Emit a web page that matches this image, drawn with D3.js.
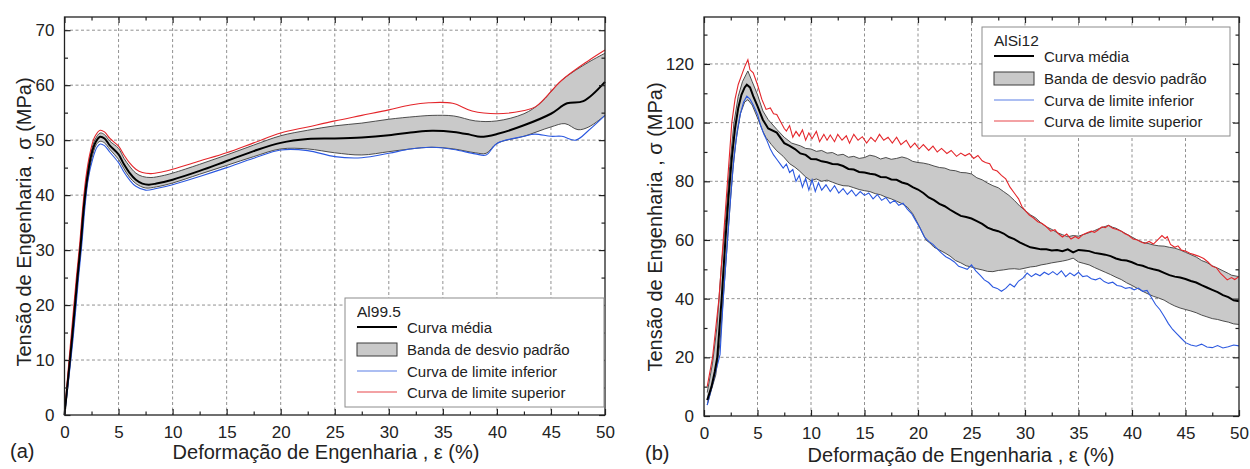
<!DOCTYPE html>
<html>
<head>
<meta charset="utf-8">
<script src="https://d3js.org/d3.v7.min.js"></script>
<style>
body { margin: 0; background: #fff; }
text { font-family: "Liberation Sans", Arial, sans-serif; fill: #222; }
</style>
</head>
<body>
<svg width="1250" height="469"></svg>
<script>
// ---- ticks ----
var xMajor = [0, 5, 10, 15, 20, 25, 30, 35, 40, 45, 50];
var xMinor = [2.5, 7.5, 12.5, 17.5, 22.5, 27.5, 32.5, 37.5, 42.5, 47.5];
var yMajorA = [0, 10, 20, 30, 40, 50, 60, 70];
var yMinorA = [5, 15, 25, 35, 45, 55, 65];
var yMajorB = [0, 20, 40, 60, 80, 100, 120];
var yMinorB = [10, 30, 50, 70, 90, 110, 130];

// ---- (a) Al99.5, [strain %, stress MPa] ----
var alMean = [[0,0],[0.2,4],[0.7,14],[1.2,25],[1.5,31],[1.8,38],[2.1,43],[2.5,47.5],[2.9,49.7],[3.3,50.6],[3.7,50.3],[4.2,49],[5,47.4],[5.5,45.6],[6,44.1],[6.6,42.8],[7.2,42.1],[7.8,41.9],[8.5,42.1],[10,42.8],[12.5,44.4],[15,46.2],[17.5,48],[20,49.5],[22.5,50.2],[25,50.3],[27.5,50.5],[30,50.9],[32.5,51.5],[34,51.7],[36,51.5],[37.5,51],[38.5,50.6],[40,51.1],[42.5,52.7],[45,54.8],[46.5,56.7],[48,57.1],[50,60.6]];
var alRed = [[0,0],[0.2,5],[0.6,14],[1.1,25],[1.4,31],[1.7,38],[2,43.5],[2.4,48],[2.8,50.6],[3.3,51.8],[3.7,51.5],[4.2,50.3],[5,48.9],[5.5,47.3],[6,45.9],[6.6,44.7],[7.2,44.1],[8,43.9],[9,44.2],[10,44.7],[12.5,46.2],[15,47.7],[17.5,49.5],[20,51.3],[22.5,52.4],[25,53.5],[27.5,54.5],[30,55.5],[32,56.4],[33.7,56.8],[35.9,56.7],[37.7,55.3],[40,54.8],[42.3,55.3],[43.6,56.1],[46,60.9],[48.5,64.5],[50,66.4]];
var alBlue = [[0,0],[0.3,5],[0.8,14],[1.3,25],[1.6,31],[1.9,38],[2.2,43],[2.6,46.5],[3,48.7],[3.3,49.3],[3.7,49],[4.2,47.8],[5,45.9],[5.5,44.2],[6,42.8],[6.6,41.6],[7.5,40.9],[8.5,41.2],[10,41.9],[12.5,43.4],[15,45],[17.5,46.7],[20,48.2],[22.5,48.1],[25,47],[27.5,46.8],[30,47.6],[32,48.4],[34,48.7],[36,48.3],[38,47.5],[39,47.3],[40,49.4],[42.5,50.7],[43.5,51.1],[45,50.7],[46,50.7],[47.3,50],[48.5,51.8],[50,54.5]];
var alUpper = [[0,0],[0.2,4.5],[0.65,14],[1.15,25],[1.45,31],[1.75,38],[2.05,43.3],[2.45,47.8],[2.85,50.2],[3.3,51.3],[3.7,51],[4.2,49.8],[5,48.5],[5.5,46.7],[6,45.3],[6.6,44],[7.2,43.4],[8,43.2],[9,43.5],[10,44],[12.5,45.6],[15,47.3],[17.5,49.1],[20,50.8],[22.5,51.8],[25,52.6],[27.5,53.1],[30,53.8],[32.5,54.3],[34,54.5],[36,54.4],[38,53.5],[40,53.5],[42.5,54.8],[44,56.7],[46,60.9],[48.5,64.2],[50,65.8]];
var alLower = [[0,0],[0.25,4],[0.75,14],[1.25,25],[1.55,31],[1.85,38],[2.15,42.7],[2.55,46.8],[2.95,49.2],[3.3,49.8],[3.7,49.5],[4.2,48.3],[5,46.5],[5.5,44.8],[6,43.3],[6.6,42.1],[7.5,41.3],[8.5,41.5],[10,42.2],[12.5,43.8],[15,45.4],[17.5,47],[20,48.4],[22.5,48.4],[25,47.7],[27.5,47.3],[30,47.9],[32,48.4],[34,48.7],[36,48.4],[38,47.7],[39,47.6],[40,49.4],[42.5,50.7],[45,52.4],[46.3,53],[47.5,51.9],[48.5,52.4],[50,54.5]];

// ---- (b) AlSi12 ----
var siMean = [[0.3,5.4],[0.7,10],[1,15],[1.24,20],[1.65,40],[2,60],[2.3,75],[2.6,88],[2.9,98],[3.2,105],[3.5,109.5],[3.8,112],[4,112.9],[4.3,112],[4.6,109],[5,105.6],[5.5,101],[6,98],[6.8,96.6],[7.5,93],[8,92.1],[8.5,91],[9,89.5],[9.5,89],[10,87.6],[10.5,87.5],[11,86.8],[11.5,86.5],[12,85.9],[12.5,85.8],[13,85.2],[13.5,84.2],[14,84],[14.5,83.2],[15,83],[15.5,82.6],[16,82.3],[16.5,81.5],[17,81.4],[17.5,80.6],[18,80.5],[18.5,79.6],[19,79.1],[19.5,78],[20,77.2],[20.5,76],[21,74.5],[21.5,73.6],[22,72.3],[22.5,71.5],[23,70.3],[23.5,69.2],[24,68.2],[24.5,67.8],[25,67.3],[25.5,66.4],[26,65.5],[26.5,64.2],[27,63.5],[27.5,63],[28,62.2],[28.5,61],[29,60.3],[29.5,59.2],[30,58.3],[30.5,57.5],[31,57.2],[31.5,56.8],[32,56.8],[32.5,56.4],[33,56.6],[33.5,56.2],[34,56.8],[34.5,55.8],[35,56.6],[35.5,56.4],[36,56.2],[36.5,55.6],[37,55.3],[37.5,55],[38,54.5],[38.5,53.7],[39,53.2],[39.5,53],[40,52.4],[40.5,51.6],[41,51.2],[41.5,50.5],[42,50],[42.5,49.6],[43,48.8],[43.5,48],[44,47.5],[44.5,47.2],[45,46.7],[45.5,46],[46,45.5],[46.5,44.6],[47,43.8],[47.5,43],[48,42.2],[48.5,41.2],[49,40.5],[49.5,39.4],[50,39.1]];
var siRed = [[0.3,10],[0.5,14],[0.8,20],[1.1,30],[1.4,40],[1.6,50],[1.8,60],[2,70],[2.2,80],[2.6,100],[2.9,108],[3.2,113],[3.5,116],[3.8,119],[4.1,121.4],[4.3,118],[4.6,117],[5,112.9],[5.4,108],[5.8,104.5],[6.2,105],[6.5,103],[6.8,102.8],[7.2,100],[7.5,98],[7.7,97.1],[8,99],[8.3,95],[8.6,97],[8.9,95.4],[9.2,97.5],[9.5,94],[9.8,96.5],[10.1,94.5],[10.5,97],[10.8,93.5],[11.2,96],[11.5,94],[11.8,95.8],[12.2,93.5],[12.5,96],[12.9,94],[13.3,95.5],[13.6,93],[14,96],[14.4,94],[14.8,95.2],[15.2,93],[15.6,95],[16,93.5],[16.4,96],[16.8,94],[17.2,95],[17.6,93],[18,95],[18.4,92.5],[18.9,94],[19.3,91.5],[19.7,93],[20.1,91],[20.5,92.5],[21,90.5],[21.4,92],[21.8,90],[22.2,91.2],[22.7,89.5],[23.1,90.5],[23.6,88.5],[24,89.6],[24.4,88.7],[24.8,89.5],[25.2,87.8],[25.6,88.8],[26,87],[26.3,86.4],[26.7,86],[27,84],[27.4,83.5],[27.8,82],[28.2,80.8],[28.6,78],[29,76],[29.4,74],[29.7,71.5],[30,70.1],[30.4,68.5],[30.8,67.5],[31.2,66.2],[31.6,65.6],[32,64.5],[32.4,63],[32.8,63.5],[33.1,62.2],[33.5,61],[33.9,62],[34.3,60.3],[34.7,61.2],[35,60.5],[35.4,61.8],[35.8,62.5],[36.2,63],[36.5,62.6],[36.8,63.3],[37.2,64.5],[37.5,64.2],[37.8,65],[38.2,64],[38.6,63.6],[39,63],[39.3,62.2],[39.7,61.5],[40.1,60.3],[40.5,60],[40.9,59.2],[41.2,58.8],[41.6,59.5],[42,58.6],[42.4,60],[42.8,61.5],[43.1,60.5],[43.3,61.1],[43.6,58.5],[44,57.5],[44.3,58],[44.6,56.6],[45,56.2],[45.4,55.5],[45.8,55],[46.2,54.5],[46.7,53.7],[47.1,52.5],[47.5,51],[47.9,50.5],[48.3,48.5],[48.6,47.5],[48.9,46.4],[49.3,47.2],[49.6,46.5],[50,47.5]];
var siBlue = [[0.3,3.7],[0.6,8],[1,14],[1.3,18],[1.5,21],[1.8,40],[2,50],[2.2,60],[2.5,75],[2.8,88],[3.1,97],[3.4,103],[3.7,107],[4,109],[4.3,108],[4.6,106],[5,102.8],[5.3,99],[5.6,96],[5.9,93.7],[6.2,91],[6.5,89],[6.8,87.5],[7.1,86],[7.4,84.5],[7.7,85.9],[8,83],[8.3,84],[8.6,80],[8.9,82],[9.2,78],[9.5,81],[9.8,77],[10.1,80.5],[10.4,76.5],[10.7,79.5],[11,77],[11.4,78.8],[11.8,76.5],[12.2,78.5],[12.6,76],[13,77.5],[13.4,75.5],[13.8,77],[14.2,75],[14.6,76.5],[15,75.2],[15.4,76],[15.8,74],[16.2,75.5],[16.6,73.5],[17,74.5],[17.4,72.5],[17.8,73.5],[18.2,71.8],[18.6,72.5],[19,70.5],[19.4,69],[19.8,66.5],[20.2,64],[20.6,61],[21,59.5],[21.4,58.5],[21.8,57],[22.2,55.5],[22.6,54.3],[23,53.5],[23.4,52.5],[23.8,51],[24.2,50.5],[24.6,50],[25,51.5],[25.4,49.5],[25.8,48],[26.2,46.4],[26.6,45.5],[27,44],[27.4,43.5],[27.8,42.5],[28.2,43.5],[28.6,45],[29,44],[29.4,46],[29.8,47],[30.2,48.7],[30.6,47.5],[31,48.5],[31.4,47.8],[31.8,49],[32.2,48.2],[32.6,49.2],[33,48.1],[33.4,49.5],[33.8,47.5],[34.2,48.8],[34.6,47.8],[35,49],[35.4,47.5],[35.8,47.8],[36.2,46.8],[36.6,46.4],[37,47],[37.4,45.8],[37.8,45.2],[38.2,45.6],[38.6,44.5],[39,44.2],[39.4,43.5],[39.8,43.8],[40.2,43],[40.6,43.6],[41,42.5],[41.4,42.8],[41.8,40.5],[42.2,38],[42.6,36.3],[43,34],[43.4,31.5],[43.8,29.5],[44.2,28],[44.6,26.5],[45,25],[45.5,24.2],[46,23.8],[46.5,24.5],[47,23.5],[47.5,23.3],[48,24],[48.5,23.2],[49,23.6],[49.5,24.2],[50,23.9]];
var siUpper = [[0.3,8],[0.8,18],[1.2,30],[1.6,50],[2,66],[2.4,85],[2.8,100],[3.2,109],[3.6,114],[4.1,117.6],[4.5,114],[5,109.5],[5.5,104],[6,101],[6.8,97.7],[7.5,95],[8.2,93],[9,92.1],[9.5,91.2],[10,91],[10.5,90.2],[11,90.5],[11.5,89.6],[12,89.8],[12.5,88.9],[13,89.2],[13.5,88.2],[14,88.5],[14.5,87.8],[15,88.1],[15.5,88.9],[16,88.5],[16.5,87.6],[17,88.1],[17.5,87.5],[18,87.8],[18.5,88.3],[19,87.8],[19.5,86.8],[20,86.4],[20.5,86.2],[21,85.8],[21.5,85.2],[22,84.7],[22.5,84.5],[23,83.8],[23.5,83.6],[24,83],[24.5,82.9],[25,82.5],[25.5,81.2],[26,80.5],[26.5,79.4],[27,78.5],[27.5,77.8],[28,76.5],[28.5,75.2],[29,73.5],[29.5,71.6],[30,70.1],[30.5,68.6],[31,67.5],[31.5,65.8],[32,64.5],[32.5,63.6],[33,62.5],[33.5,61.8],[34,61.1],[34.5,61.5],[35,61.3],[35.5,61.9],[36,62.5],[36.5,63.2],[37,64],[37.5,64.6],[37.8,65],[38.2,64.3],[38.5,64],[39,63],[39.5,62],[40,61],[40.5,60],[41,59.2],[41.5,58.8],[42,58.3],[42.5,58],[43,57.9],[43.5,57.5],[44,57.2],[44.5,56.6],[45,55.8],[45.5,55],[46,54.2],[46.5,53],[47,52.3],[47.5,51.2],[48,50.4],[48.5,49.5],[49,48.6],[49.3,48],[50,47.5]];
var siLower = [[0.3,3.8],[0.7,9],[1.1,14],[1.5,25],[1.8,40],[2.1,55],[2.4,70],[2.7,84],[3,94],[3.4,103],[3.8,107],[4.1,107.8],[4.5,106],[5,101.6],[5.5,97],[5.8,94.9],[6.3,92.5],[6.8,90.4],[7.4,88.5],[8,86],[8.5,84.8],[8.9,83.6],[9.5,81.5],[10,80.2],[10.5,80.8],[11,80],[11.5,80.4],[12,79.7],[12.5,79],[13,78.5],[13.5,78.4],[14,77.8],[14.5,77.2],[15,76.8],[15.5,76.5],[16,75.8],[16.5,75.4],[17,74.6],[17.5,74],[18,73.2],[18.5,72.4],[19,71.2],[19.5,69],[20,65.5],[20.4,62.5],[20.75,60],[21.1,59],[21.5,57.5],[22,56.6],[22.6,55.4],[23,54.5],[23.5,53],[24,52.2],[24.5,51.2],[25,50.8],[25.5,50.2],[26,49.8],[26.5,49.3],[27,49.2],[27.5,49.6],[28,49.8],[28.5,50.1],[29,50.2],[29.5,50],[30,50.4],[30.5,50.8],[31,51],[31.5,51.5],[32,51.8],[32.5,52.2],[33,52.5],[33.5,52.8],[34,53.2],[34.5,53.8],[35,52.5],[35.5,52],[36,51.5],[36.5,50.6],[37,49.8],[37.5,49],[38,48.2],[38.5,47.3],[39,46.5],[39.5,45.4],[40,44.5],[40.5,43.5],[41,42.5],[41.5,41.6],[42,40.8],[42.5,40.2],[43,39.5],[43.5,38.4],[44,37.5],[44.5,36.8],[45,36.3],[45.5,35.8],[46,35.2],[46.5,34.4],[47,33.8],[47.5,33.2],[48,32.9],[48.5,32.4],[49,32],[49.5,31.4],[50,31.2]];

var legendItems = ["Curva média", "Banda de desvio padrão", "Curva de limite inferior", "Curva de limite superior"];

var svg = d3.select("svg");

function panel(p) {
    var x = d3.scaleLinear().domain([0, 50]).range([p.left, p.right]);
    var y = d3.scaleLinear().domain([0, p.ymax]).range([p.bottom, p.top]);
    var g = svg.append("g");

    // grid
    g.selectAll(".gx").data(xMajor.slice(1, -1)).enter().append("line")
        .attr("x1", d => x(d)).attr("x2", d => x(d))
        .attr("y1", p.top).attr("y2", p.bottom)
        .attr("stroke", "#858585").attr("stroke-width", 0.9).attr("stroke-dasharray", "3,2.5");
    g.selectAll(".gy").data(p.yMajor.slice(1)).enter().append("line")
        .attr("y1", d => y(d)).attr("y2", d => y(d))
        .attr("x1", p.left).attr("x2", p.right)
        .attr("stroke", "#858585").attr("stroke-width", 0.9).attr("stroke-dasharray", "3,2.5");

    var line = d3.line().x(d => x(d[0])).y(d => y(d[1])).curve(p.curve);

    // std band: upper forwards, lower backwards
    var bandPath = line(p.upper) + "L" + line(p.lower.slice().reverse()).slice(1) + "Z";
    g.append("path").attr("d", bandPath).attr("fill", "#c9c9c9");
    g.append("path").attr("d", line(p.upper)).attr("fill", "none").attr("stroke", "#3c3c3c").attr("stroke-width", 0.9);
    g.append("path").attr("d", line(p.lower)).attr("fill", "none").attr("stroke", "#3c3c3c").attr("stroke-width", 0.9);

    g.append("path").attr("d", line(p.blue)).attr("fill", "none").attr("stroke", "#2b58e0").attr("stroke-width", 1.1);
    g.append("path").attr("d", line(p.red)).attr("fill", "none").attr("stroke", "#e4262b").attr("stroke-width", 1.1);
    g.append("path").attr("d", line(p.mean)).attr("fill", "none").attr("stroke", "#000").attr("stroke-width", 2);

    // axes with inward ticks
    function ax(gen, tx, ty, vals, size, labels, pad) {
        var a = gen.tickValues(vals).tickSizeInner(-size).tickSizeOuter(0).tickPadding(pad || 0);
        if (!labels) a.tickFormat("");
        var s = g.append("g").attr("transform", "translate(" + tx + "," + ty + ")").call(a);
        s.select(".domain").remove();
        s.selectAll("line").attr("stroke", "#222").attr("stroke-width", 1.2);
        s.selectAll("text").attr("font-size", "17px").attr("fill", "#222")
            .style("font-family", "'Liberation Sans', Arial, sans-serif");
        return s;
    }
    ax(d3.axisBottom(x), 0, p.bottom, xMajor, 6, true, 11);
    ax(d3.axisBottom(x), 0, p.bottom, xMinor, 3.5, false);
    ax(d3.axisTop(x), 0, p.top, xMajor, 6, false);
    ax(d3.axisTop(x), 0, p.top, xMinor, 3.5, false);
    ax(d3.axisLeft(y), p.left, 0, p.yMajor, 6, true, 10);
    ax(d3.axisLeft(y), p.left, 0, p.yMinor, 3.5, false);
    ax(d3.axisRight(y), p.right, 0, p.yMajor, 6, false);
    ax(d3.axisRight(y), p.right, 0, p.yMinor, 3.5, false);

    g.append("rect").attr("x", p.left).attr("y", p.top)
        .attr("width", p.right - p.left).attr("height", p.bottom - p.top)
        .attr("fill", "none").attr("stroke", "#222").attr("stroke-width", 1.3);

    // titles
    g.append("text").attr("x", p.xtX).attr("y", p.xtY).attr("text-anchor", "middle")
        .attr("font-size", "20px").text("Deformação de Engenharia , ε (%)");
    g.append("text").attr("transform", "translate(" + p.ytX + "," + p.ytY + ") rotate(-90)")
        .attr("text-anchor", "middle").attr("font-size", "20px")
        .text("Tensão de Engenharia , σ (MPa)");
    g.append("text").attr("x", p.tagX).attr("y", p.tagY).attr("font-size", "20px").text(p.tag);

    // legend
    var L = p.leg;
    var lg = g.append("g").attr("transform", "translate(" + L.x + "," + L.y + ")");
    lg.append("rect").attr("width", L.w).attr("height", L.h)
        .attr("fill", "#fff").attr("stroke", "#8c8c8c").attr("stroke-width", 1);
    lg.append("text").attr("x", 12).attr("y", 19).attr("font-size", "15.5px").text(p.name);
    var rowY = [29, 51, 73, 94];
    var styles = [
        {stroke: "#000", w: 2},
        null,
        {stroke: "#5b7fe6", w: 1.2},
        {stroke: "#e8474b", w: 1.2}
    ];
    legendItems.forEach(function (t, i) {
        if (styles[i]) {
            lg.append("line").attr("x1", 12).attr("x2", 52).attr("y1", rowY[i]).attr("y2", rowY[i])
                .attr("stroke", styles[i].stroke).attr("stroke-width", styles[i].w);
        } else {
            lg.append("rect").attr("x", 12).attr("y", rowY[i] - 6).attr("width", 40).attr("height", 13)
                .attr("fill", "#c9c9c9").attr("stroke", "#3c3c3c").attr("stroke-width", 1);
        }
        lg.append("text").attr("x", 62).attr("y", rowY[i] + 5.5).attr("font-size", "15px").text(t);
    });
}

panel({
    left: 64.5, right: 605, top: 17, bottom: 415, ymax: 72.4,
    yMajor: yMajorA, yMinor: yMinorA, curve: d3.curveCatmullRom.alpha(0.5),
    mean: alMean, red: alRed, blue: alBlue, upper: alUpper, lower: alLower,
    xtX: 326, xtY: 459, ytX: 31, ytY: 222, tag: "(a)", tagX: 10, tagY: 458,
    name: "Al99.5",
    leg: {x: 345, y: 298, w: 259, h: 109}
});

panel({
    left: 704, right: 1239, top: 17, bottom: 416, ymax: 136,
    yMajor: yMajorB, yMinor: yMinorB, curve: d3.curveLinear,
    mean: siMean, red: siRed, blue: siBlue, upper: siUpper, lower: siLower,
    xtX: 961, xtY: 462, ytX: 662, ytY: 227, tag: "(b)", tagX: 645, tagY: 460,
    name: "AlSi12",
    leg: {x: 982, y: 27, w: 248, h: 109}
});
</script>
</body>
</html>
